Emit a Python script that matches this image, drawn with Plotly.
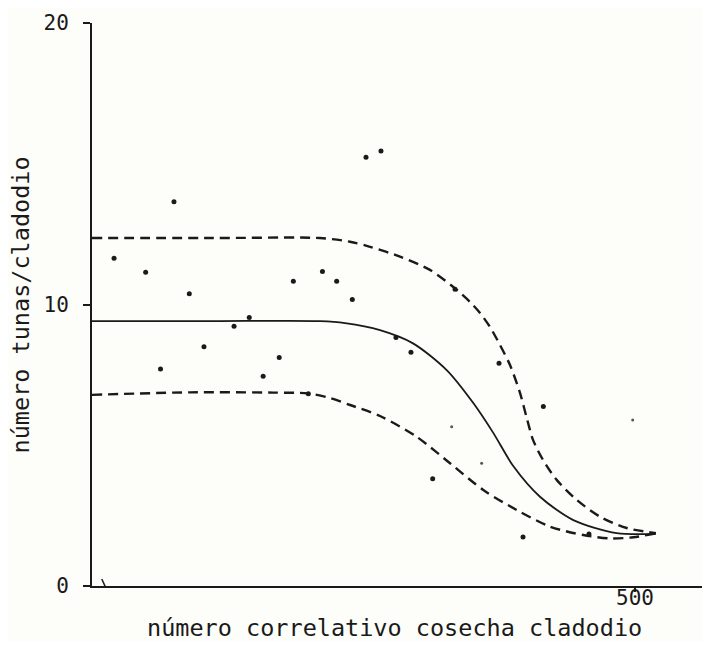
import plotly.graph_objects as go

# ---- data ----
obs_x = [20.3, 49.4, 75.5, 89.6, 63.1, 103.1, 130.8, 144.8, 157.6, 172.4,
         185.4, 199.2, 212.2, 225.3, 239.7, 252.3, 266.1, 279.9, 293.7, 334.3,
         313.7, 374.8, 396.9, 415.6, 457.6]
obs_y = [11.64, 11.15, 13.65, 10.38, 7.71, 8.50, 9.23, 9.54, 7.45, 8.12,
         10.83, 6.83, 11.17, 10.83, 10.18, 15.23, 15.45, 8.83, 8.30, 10.54,
         3.81, 7.91, 1.74, 6.38, 1.85]

faint_x = [331.2, 358.8, 497.9]
faint_y = [5.66, 4.36, 5.90]

fit_x = [0, 110, 209.9, 233.0, 265.2, 295.6, 326.6, 351.1, 369.5, 387.9,
         412.5, 443.2, 483.1, 519.3]
fit_y = [9.41, 9.41, 9.41, 9.34, 9.09, 8.62, 7.67, 6.50, 5.44, 4.26,
         3.17, 2.34, 1.88, 1.85]

upper_x = [0, 110, 209.9, 237.6, 256.0, 283.6, 311.2, 332.4, 348.1, 357.3, 366.5,
           375.7, 384.9, 394.1, 400.6, 406.1, 415.3, 427.9, 446.3, 467.8, 492.4, 519.3]
upper_y = [12.36, 12.36, 12.36, 12.23, 12.05, 11.70, 11.23, 10.63, 10.09, 9.70, 9.20,
           8.56, 7.85, 6.86, 5.93, 5.19, 4.48, 3.77, 3.06, 2.46, 2.06, 1.88]

lower_x = [0, 90.2, 166.7, 198.9, 219.1, 237.6, 265.2, 299, 329.7, 360.3,
           391.1, 421.7, 452.4, 477, 498.4, 520]
lower_y = [6.79, 6.88, 6.87, 6.84, 6.68, 6.43, 6.04, 5.30, 4.36, 3.41,
           2.70, 2.11, 1.81, 1.69, 1.73, 1.88]

axis_break_x = [9, 15.5]
axis_break_y = [0.25, -0.3]

x_ticks = [500]
y_ticks = [0, 10, 20]

x_title = "número correlativo cosecha cladodio"
y_title = "número tunas/cladodio"

INK = "#1a1a1a"
FONT = "DejaVu Sans Mono"

fig = go.Figure()

fig.add_trace(go.Scatter(x=upper_x, y=upper_y, mode="lines",
                         line=dict(color=INK, width=2.4, dash="10px,6px",
                                   shape="spline", smoothing=0.8),
                         hoverinfo="skip", showlegend=False))
fig.add_trace(go.Scatter(x=lower_x, y=lower_y, mode="lines",
                         line=dict(color=INK, width=2.4, dash="10px,6px",
                                   shape="spline", smoothing=0.8),
                         hoverinfo="skip", showlegend=False))
fig.add_trace(go.Scatter(x=fit_x, y=fit_y, mode="lines",
                         line=dict(color=INK, width=1.8, shape="spline", smoothing=0.8),
                         hoverinfo="skip", showlegend=False))
fig.add_trace(go.Scatter(x=obs_x, y=obs_y, mode="markers",
                         marker=dict(color=INK, size=5),
                         showlegend=False))
fig.add_trace(go.Scatter(x=faint_x, y=faint_y, mode="markers",
                         marker=dict(color="#555555", size=3),
                         showlegend=False))
fig.add_trace(go.Scatter(x=axis_break_x, y=axis_break_y, mode="lines",
                         line=dict(color=INK, width=1.5), cliponaxis=False,
                         hoverinfo="skip", showlegend=False))

# x tick labels placed just under the axis line (closer than Plotly's default pad)
for t in x_ticks:
    fig.add_annotation(text=str(t), xref="x", yref="paper", x=t, y=-0.0213,
                       xanchor="center", yanchor="middle", showarrow=False,
                       font=dict(family=FONT, size=21, color=INK))

fig.add_annotation(text=x_title, xref="paper", yref="paper", x=0.496, y=-0.0746,
                   xanchor="center", yanchor="middle", showarrow=False,
                   font=dict(family=FONT, size=23.5, color=INK))
fig.add_annotation(text=y_title, xref="paper", yref="paper", x=-0.1164, y=0.5,
                   xanchor="center", yanchor="middle", textangle=-90, showarrow=False,
                   font=dict(family=FONT, size=23.5, color=INK))

fig.update_layout(
    width=694, height=634,
    margin=dict(l=84, r=0, t=15, b=56),
    paper_bgcolor="#fdfdf9", plot_bgcolor="#fdfdf9",
    font=dict(family=FONT, color=INK),
    xaxis=dict(range=[0, 561.7], tickvals=x_ticks, showticklabels=False,
               ticks="outside", ticklen=4,
               tickwidth=1.5, tickcolor=INK, showline=True, linecolor=INK,
               linewidth=2, showgrid=False, zeroline=False, mirror=False,
               automargin=False),
    yaxis=dict(range=[0, 20], tickvals=y_ticks, ticks="outside", ticklen=7,
               tickwidth=1.5, tickcolor=INK, showline=True, linecolor=INK,
               linewidth=2, showgrid=False, zeroline=False, mirror=False,
               tickfont=dict(family=FONT, size=21, color=INK),
               ticklabelstandoff=10,
               automargin=False),
)

fig.write_html("out.html")
